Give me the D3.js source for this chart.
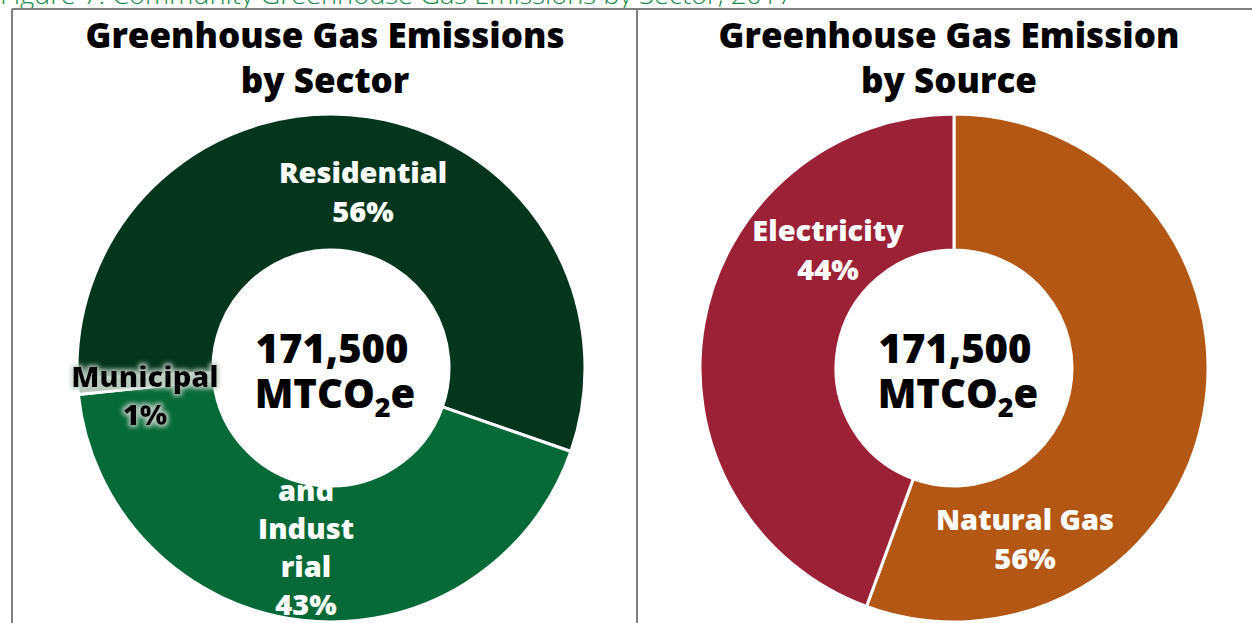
<!DOCTYPE html>
<html>
<head>
<meta charset="utf-8">
<script src="https://cdn.jsdelivr.net/npm/d3@7"></script>
<style>
  html, body { margin: 0; padding: 0; background: #ffffff; overflow: hidden; }
  svg { display: block; }
</style>
</head>
<body>
<svg id="chart" width="1252" height="623"></svg>
<script>
// ---------------- DATA ----------------
const captionText = "Figure 7: Community Greenhouse Gas Emissions by Sector, 2017";
const totalLabel = ["171,500", "MTCO", "2", "e"];

const sectorTitle = ["Greenhouse Gas Emissions", "by Sector"];
const sectorCategories = ["Residential", "Commercial and Industrial", "Municipal"];
const sectorValues = [56.0, 43.0, 1.0];
const sectorLabelLines = [["Residential"], ["Comme", "rcial", "and", "Indust", "rial"], ["Municipal"]];

const sourceTitle = ["Greenhouse Gas Emission", "by Source"];
const sourceCategories = ["Natural Gas", "Electricity"];
const sourceValues = [55.6, 44.4];
const sourceLabelLines = [["Natural Gas"], ["Electricity"]];

// ---------------- STYLE / LAYOUT ----------------
const sectorColors = ["#04361e", "#066a38", "#b3c3b8"];
const sourceColors = ["#b45715", "#9c2137"];
const FONT = "'Open Sans', Lato, sans-serif";
const pct = d3.format(".0%");

const svg = d3.select("#chart");

// glow filter for the dark label
const defs = svg.append("defs");
const glow = defs.append("filter").attr("id", "glow").attr("x", "-20%").attr("y", "-40%").attr("width", "140%").attr("height", "180%");
glow.append("feMorphology").attr("in", "SourceAlpha").attr("operator", "dilate").attr("radius", 2).attr("result", "dil");
glow.append("feGaussianBlur").attr("in", "dil").attr("stdDeviation", 2.2).attr("result", "blur");
glow.append("feFlood").attr("flood-color", "#b9ccbf").attr("flood-opacity", 0.95).attr("result", "col");
glow.append("feComposite").attr("in", "col").attr("in2", "blur").attr("operator", "in").attr("result", "g");
const gm = glow.append("feMerge");
gm.append("feMergeNode").attr("in", "g");
gm.append("feMergeNode").attr("in", "SourceGraphic");

// caption
svg.append("text")
  .attr("x", 0).attr("y", 4)
  .attr("font-family", "'Open Sans', Lato, sans-serif")
  .attr("font-weight", 300)
  .attr("font-size", 25)
  .attr("fill", "#1c8a4b")
  .attr("textLength", 793).attr("lengthAdjust", "spacingAndGlyphs")
  .text(captionText);

// frame
const frame = svg.append("g").attr("stroke", "#7f7f7f").attr("stroke-width", 2).attr("fill", "none");
frame.append("line").attr("x1", 12).attr("x2", 1252).attr("y1", 9).attr("y2", 9);
frame.append("line").attr("x1", 12).attr("x2", 12).attr("y1", 9).attr("y2", 623);
frame.append("line").attr("x1", 637).attr("x2", 637).attr("y1", 9).attr("y2", 623);

const R = 254, r = 118;
const arc = d3.arc().innerRadius(r).outerRadius(R);

function drawPanel(opts) {
  const g = svg.append("g");
  // title
  opts.title.forEach((t, i) => {
    g.append("text")
      .attr("x", opts.panelCx).attr("y", 48 + i * 45)
      .attr("text-anchor", "middle")
      .attr("font-family", FONT).attr("font-weight", 800)
      .attr("font-size", 35).attr("fill", "#000")
      .text(t);
  });

  const pie = d3.pie().sort(null).value(d => d)
    .startAngle(opts.start).endAngle(opts.start + 2 * Math.PI);
  const arcs = pie(opts.values);
  const total = d3.sum(opts.values);

  const cg = g.append("g").attr("transform", `translate(${opts.cx},${opts.cy})`);
  cg.selectAll("path.slice").data(arcs).join("path")
    .attr("class", "slice")
    .attr("d", arc)
    .attr("fill", (d, i) => opts.colors[i])
    .attr("stroke", "#fff").attr("stroke-width", 3).attr("stroke-linejoin", "round");

  function label(d, i, layer) {
    const L = opts.labels[i];
    if (L.layer !== layer) return;
    const lines = opts.lines[i].concat([pct(d.data / total)]);
    const t = cg.append("text")
      .attr("text-anchor", "middle")
      .attr("font-family", FONT).attr("font-weight", 800)
      .attr("font-size", 29)
      .attr("fill", L.color)
      .attr("filter", L.glow ? "url(#glow)" : null);
    lines.forEach((s, k) => {
      t.append("tspan").attr("x", L.dx).attr("y", L.dy + k * L.lh).text(s);
    });
  }
  arcs.forEach((d, i) => label(d, i, 0));
  // hole
  cg.append("circle").attr("r", r - 1).attr("fill", "#fff");
  arcs.forEach((d, i) => label(d, i, 1));

  // center total
  cg.append("text").attr("text-anchor", "middle")
    .attr("font-family", FONT).attr("font-weight", 800).attr("font-size", 40).attr("fill", "#000")
    .attr("x", 1).attr("y", -5).text(totalLabel[0]);
  const ct2 = cg.append("text").attr("text-anchor", "middle")
    .attr("font-family", FONT).attr("font-weight", 800).attr("font-size", 40).attr("fill", "#000")
    .attr("x", 4).attr("y", 40);
  ct2.append("tspan").text(totalLabel[1]);
  ct2.append("tspan").attr("font-size", 27).attr("dy", 9).text(totalLabel[2]);
  ct2.append("tspan").attr("dy", -9).text(totalLabel[3]);
}

const deg = Math.PI / 180;

drawPanel({
  panelCx: 325, cx: 331, cy: 368,
  title: sectorTitle, values: sectorValues, colors: sectorColors, lines: sectorLabelLines,
  start: 267.6 * deg,
  labels: [
    { dx: 32, dy: -185, lh: 39, color: "#fff", layer: 0 },
    { dx: -25, dy: 57, lh: 38, color: "#fff", layer: 0 },
    { dx: -186, dy: 19, lh: 38, color: "#000", layer: 1, glow: true }
  ]
});

drawPanel({
  panelCx: 949, cx: 954, cy: 368,
  title: sourceTitle, values: sourceValues, colors: sourceColors, lines: sourceLabelLines,
  start: 0,
  labels: [
    { dx: 71, dy: 162, lh: 39, color: "#fff", layer: 0 },
    { dx: -126, dy: -127, lh: 39, color: "#fff", layer: 0 }
  ]
});
</script>
</body>
</html>
